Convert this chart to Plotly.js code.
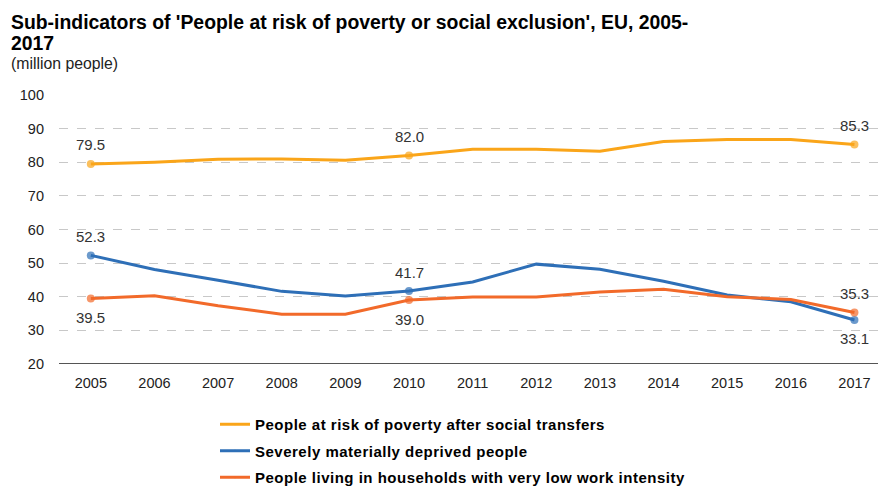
<!DOCTYPE html>
<html><head><meta charset="utf-8">
<script src="https://cdn.plot.ly/plotly-3.0.1.min.js"></script>
<style>html,body{margin:0;padding:0;background:#fff}#chart{width:878px;height:488px}
.legendtext{letter-spacing:0.5px}</style>
</head><body><div id="chart"></div>
<script>
const years = [2005,2006,2007,2008,2009,2010,2011,2012,2013,2014,2015,2016,2017];
const povertyAfterTransfers = [79.5,80.0,80.9,81.0,80.6,82.0,83.9,83.9,83.3,86.2,86.8,86.8,85.3];
const materiallyDeprived = [52.3,48.1,44.9,41.6,40.2,41.7,44.4,49.7,48.2,44.6,40.5,38.5,33.1];
const lowWorkIntensity = [39.5,40.3,37.3,34.8,34.8,39.0,39.9,39.9,41.4,42.2,40.0,39.2,35.3];
const seriesNames = ["People at risk of poverty after social transfers","Severely materially deprived people","People living in households with very low work intensity"];
const colors = ["#FAA519","#2E6FB7","#F26A2A"];
const labelYears = [2005,2010,2017];
// label position per series at each labelled year: 1 above, -1 below
const labelPos = [[1,1,1],[1,1,-1],[-1,-1,1]];
const allSeries = [povertyAfterTransfers, materiallyDeprived, lowWorkIntensity];

const traces = allSeries.map((vals,i)=>({
  x: years, y: vals, type:'scatter', mode:'lines+markers', name: seriesNames[i],
  line:{color:colors[i], width:3},
  marker:{color:colors[i], size: years.map(y=>labelYears.includes(y)?8:0), line:{width:0}},
  legendgroup:'g'+i, hoverinfo:'x+y'
}));

const FONT = 'Liberation Sans, Arial, sans-serif';
const annotations = [];
allSeries.forEach((vals,i)=>{
  labelYears.forEach((yr,k)=>{
    const idx = years.indexOf(yr);
    annotations.push({x:yr, y:vals[idx], xref:'x', yref:'y', text: vals[idx].toFixed(1),
      showarrow:false, yshift: labelPos[i][k]*19, font:{family:FONT, size:15, color:'#333'}});
  });
});
const titleAnn = [
  {text:"<b>Sub-indicators of 'People at risk of poverty or social exclusion', EU, 2005-</b>", x:9, y:9, size:19.4, color:'#000'},
  {text:"<b>2017</b>", x:9, y:30, size:19.4, color:'#000'},
  {text:"(million people)", x:9, y:53, size:15.8, color:'#222'}
];
titleAnn.forEach(t=>annotations.push({text:t.text, xref:'paper', yref:'paper', x:(t.x-59)/819, y:1+(95-t.y)/269, xanchor:'left', yanchor:'top', showarrow:false, font:{family:FONT, size:t.size, color:t.color}}));

const layout = {
  width:878, height:488, margin:{l:59, r:0, t:95, b:124, autoexpand:false},
  paper_bgcolor:'#fff', plot_bgcolor:'#fff',
  font:{family:FONT, size:14.5, color:'#222'},
  xaxis:{range:[2004.5,2017.37], tickvals:years, ticktext:years.map(String), showgrid:false, zeroline:false,
    showline:false, ticks:'', ticklabelstandoff:8, fixedrange:true},
  yaxis:{range:[20,100], dtick:10, tick0:20, showgrid:true, gridcolor:'#c8c8c8', griddash:'dash', gridwidth:1,
    zeroline:false, showline:false, ticks:'', ticklabelstandoff:14, fixedrange:true},
  shapes:[{type:'line', xref:'paper', yref:'y', x0:0, x1:1, y0:20, y1:20, line:{color:'#555', width:2}}],
  showlegend:true,
  legend:{orientation:'v', x:(215-59)/819, xanchor:'left', y:-(408-364)/269, yanchor:'top', traceorder:'grouped', tracegroupgap:4,
    font:{family:FONT, size:15, color:'#000', weight:'bold'}, itemwidth:30},
  annotations: annotations
};
Plotly.newPlot('chart', traces, layout, {displayModeBar:false, staticPlot:true});
</script></body></html>
